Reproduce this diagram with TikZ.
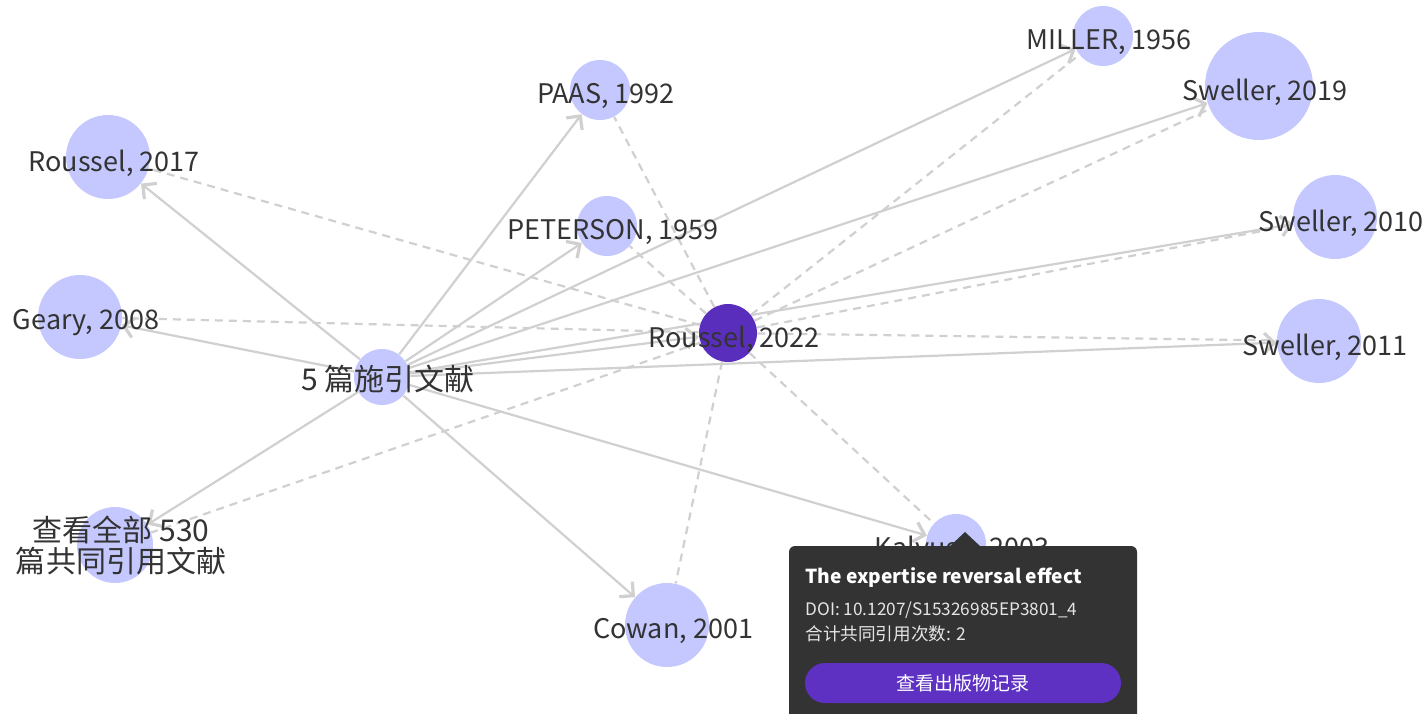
\documentclass[tikz,border=0pt]{standalone}
\usepackage{fontspec}
\setmainfont{Noto Sans CJK SC}
\usetikzlibrary{arrows.meta, backgrounds}
\definecolor{lav}{HTML}{C4C8FE}
\definecolor{focus}{HTML}{5A2EBD}
\definecolor{edge}{HTML}{D0D0D0}
\definecolor{ink}{HTML}{333333}
\definecolor{tipbg}{HTML}{333333}
\definecolor{btn}{HTML}{5E31C2}

\begin{document}
\begin{tikzpicture}[x=0.5pt, y=-0.5pt, >={Straight Barb[length=5pt, width=10pt, line width=1.6pt]},
    main/.style = {circle, fill=lav, inner sep=0pt},
    lbl/.style = {text=ink, font=\fontsize{13.5}{15.5}\selectfont, xshift=3pt, yshift=-3pt},
    cjk/.style = {font=\fontsize{15}{15.5}\selectfont},
    cite/.style = {draw=edge, line width=1.1pt, ->},
    cocite/.style = {draw=edge, line width=1.1pt, dash pattern=on 4pt off 3pt}]
    \useasboundingbox (0,0) rectangle (1427,713);
    \node[main, minimum size=28pt, label={[lbl, cjk, yshift=2pt]center:5 篇施引文献}] (1) at (382,377) {};
    \node[main, fill=focus, minimum size=29pt, label={[lbl]center:Roussel, 2022}] (2) at (728,333) {};
    \node[main, minimum size=42pt, label={[lbl]center:Roussel, 2017}] (3) at (108,157) {};
    \node[main, minimum size=42pt, label={[lbl]center:Geary, 2008}] (4) at (80,317) {};
    \node[main, minimum size=38pt, label={[lbl, cjk, align=center, yshift=3pt]center:查看全部 530\\篇共同引用文献}] (5) at (115,545) {};
    \node[main, minimum size=30pt, label={[lbl]center:PAAS, 1992}] (6) at (600,90) {};
    \node[main, minimum size=30pt, label={[lbl]center:PETERSON, 1959}] (7) at (607,226) {};
    \node[main, minimum size=30pt, label={[lbl]center:MILLER, 1956}] (8) at (1103,36) {};
    \node[main, minimum size=54pt, label={[lbl]center:Sweller, 2019}] (9) at (1259,86) {};
    \node[main, minimum size=42pt, label={[lbl]center:Sweller, 2010}] (10) at (1335,217) {};
    \node[main, minimum size=42pt, label={[lbl]center:Sweller, 2011}] (11) at (1319,341) {};
    \node[main, minimum size=42pt, label={[lbl]center:Cowan, 2001}] (12) at (667,625) {};
    \node[main, minimum size=30pt, label={[lbl]center:Kalyuga, 2003}] (13) at (956,544) {};
    \begin{scope}[on background layer]
    \draw[cite] (1) -- (2);
    \draw[cite] (1) -- (3);
    \draw[cite] (1) -- (4);
    \draw[cite] (1) -- (5);
    \draw[cite] (1) -- (6);
    \draw[cite] (1) -- (7);
    \draw[cite] (1) -- (8);
    \draw[cite] (1) -- (9);
    \draw[cite] (1) -- (10);
    \draw[cite] (1) -- (11);
    \draw[cite] (1) -- (12);
    \draw[cite] (1) -- (13);
    \draw[cocite] (2) -- (3);
    \draw[cocite] (2) -- (4);
    \draw[cocite] (2) -- (5);
    \draw[cocite] (2) -- (6);
    \draw[cocite] (2) -- (7);
    \draw[cocite] (2) -- (8);
    \draw[cocite] (2) -- (9);
    \draw[cocite] (2) -- (10);
    \draw[cocite] (2) -- (11);
    \draw[cocite] (2) -- (12);
    \draw[cocite] (2) -- (13);
    \end{scope}
    % tooltip over Kalyuga
    \fill[tipbg, rounded corners=3pt] (789,546) rectangle (1137,760);
    \fill[tipbg] (949,547) -- (965,532) -- (981,547) -- cycle;
    \node[anchor=west, inner sep=0pt, text=white, font=\bfseries\fontsize{9.6}{12}\selectfont] (t1) at (805,577) {The expertise reversal effect};
    \node[anchor=west, inner sep=0pt, text=white!90!black, font=\fontsize{8.6}{10}\selectfont] (t2) at (805,610) {DOI: 10.1207/S15326985EP3801\_4};
    \node[anchor=west, inner sep=0pt, text=white!90!black, font=\fontsize{8.8}{10}\selectfont] (t3) at (805,634) {合计共同引用次数: 2};
    \node[fill=btn, rounded corners=10pt, minimum width=158pt, minimum height=20pt, text=white, font=\fontsize{9.5}{10}\selectfont] (t4) at (963,683) {查看出版物记录};
\end{tikzpicture}
\end{document}
